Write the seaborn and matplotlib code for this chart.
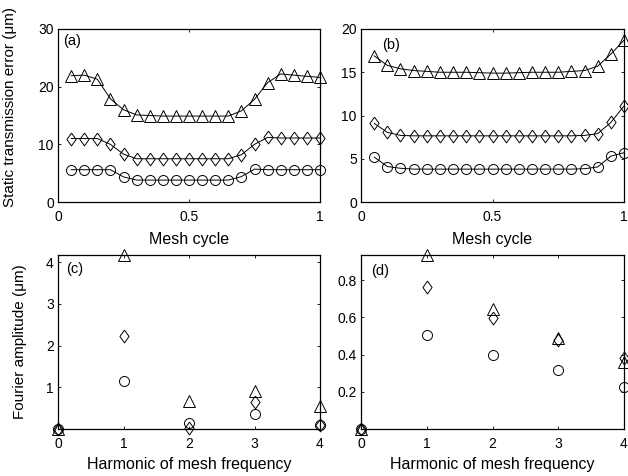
import numpy as np
import pandas as pd
import matplotlib
matplotlib.use("Agg")
import matplotlib.pyplot as plt
import seaborn as sns

# ---------------- data ----------------
mesh_cycle = [0.05, 0.10, 0.15, 0.20, 0.25, 0.30, 0.35, 0.40, 0.45, 0.50,
              0.55, 0.60, 0.65, 0.70, 0.75, 0.80, 0.85, 0.90, 0.95, 1.00]

a_triangle = [21.9, 22.0, 21.3, 17.9, 16.0, 15.1, 15.0, 14.9, 14.9, 14.9,
              14.9, 14.9, 14.9, 15.8, 17.8, 20.7, 22.2, 22.0, 21.8, 21.6]
a_diamond = [11.0, 11.0, 11.0, 10.0, 8.3, 7.5, 7.5, 7.5, 7.5, 7.5,
             7.5, 7.5, 7.5, 8.2, 10.0, 11.2, 11.1, 11.1, 11.1, 11.1]
a_circle = [5.6, 5.6, 5.6, 5.6, 4.35, 3.8, 3.8, 3.8, 3.8, 3.8,
            3.8, 3.8, 3.8, 4.4, 5.7, 5.6, 5.6, 5.6, 5.6, 5.6]

b_triangle = [16.9, 15.8, 15.4, 15.2, 15.1, 15.0, 15.0, 15.0, 14.95, 14.9,
              14.9, 14.95, 15.0, 15.0, 15.0, 15.1, 15.2, 15.7, 17.1, 18.7]
b_diamond = [9.1, 8.05, 7.7, 7.65, 7.65, 7.65, 7.65, 7.65, 7.65, 7.65,
             7.65, 7.65, 7.65, 7.65, 7.65, 7.65, 7.7, 7.9, 9.2, 11.1]
b_circle = [5.2, 4.1, 3.9, 3.8, 3.8, 3.8, 3.8, 3.8, 3.8, 3.8,
            3.8, 3.8, 3.8, 3.8, 3.8, 3.8, 3.85, 4.05, 5.3, 5.7]

harmonic = [0, 1, 2, 3, 4]
c_triangle = [0.0, 4.17, 0.67, 0.92, 0.55]
c_diamond = [0.0, 2.22, 0.02, 0.64, 0.10]
c_circle = [0.0, 1.16, 0.15, 0.36, 0.10]

d_triangle = [0.0, 0.935, 0.647, 0.49, 0.36]
d_diamond = [0.0, 0.765, 0.595, 0.48, 0.38]
d_circle = [0.0, 0.507, 0.40, 0.315, 0.227]

a_yticks = [0, 10, 20, 30]
b_yticks = [0, 5, 10, 15, 20]
c_yticks = [1, 2, 3, 4]
d_yticks = [0.2, 0.4, 0.6, 0.8]
mesh_xticks = [0, 0.5, 1]
mesh_xticklabels = ["0", "0.5", "1"]

# ---------------- style ----------------
sns.set_theme(style="ticks")
plt.rcParams["font.family"] = ["Liberation Sans", "DejaVu Sans"]
TICK_FS = 10
XLABEL_FS = 11.5
YLABEL_FS = 11
plt.rcParams.update({
    "font.size": TICK_FS,
    "axes.labelsize": XLABEL_FS,
    "xtick.labelsize": TICK_FS,
    "ytick.labelsize": TICK_FS,
    "axes.edgecolor": "black",
    "axes.linewidth": 0.9,
    "xtick.direction": "in",
    "ytick.direction": "in",
    "xtick.top": True,
    "ytick.right": True,
    "xtick.major.size": 2.5,
    "ytick.major.size": 2.5,
    "xtick.major.width": 0.6,
    "ytick.major.width": 0.6,
    "xtick.color": "black",
    "ytick.color": "black",
    "text.color": "black",
    "axes.labelcolor": "black",
})

fig = plt.figure(figsize=(6.28, 4.76), dpi=100)
W, H = 628, 476


def add_ax(l, t, r, b):
    return fig.add_axes([l / W, 1 - b / H, (r - l) / W, (b - t) / H])


ax_a = add_ax(58, 29, 320, 202)
ax_b = add_ax(361, 29, 624, 202)
ax_c = add_ax(58, 255, 320, 429)
ax_d = add_ax(361, 255, 624, 429)

diamond = [(0, 1), (0.72, 0), (0, -1), (-0.72, 0), (0, 1)]
markers = [("^", 8.0), (diamond, 9.2), ("o", 7.2)]


def draw(ax, x, series, connect):
    for (m, ms), y in zip(markers, series):
        df = pd.DataFrame({"x": x, "y": y})
        sns.lineplot(data=df, x="x", y="y", ax=ax, color="black",
                     linewidth=0.7 if connect else 0,
                     linestyle="-" if connect else "none",
                     marker=m, markersize=ms,
                     markerfacecolor="none", markeredgecolor="black",
                     markeredgewidth=0.7, clip_on=False, sort=False,
                     estimator=None)
    ax.set_xlabel("")
    ax.set_ylabel("")
    for s in ax.spines.values():
        s.set_visible(True)
        s.set_color("black")


draw(ax_a, mesh_cycle, [a_triangle, a_diamond, a_circle], True)
draw(ax_b, mesh_cycle, [b_triangle, b_diamond, b_circle], True)
draw(ax_c, harmonic, [c_triangle, c_diamond, c_circle], False)
draw(ax_d, harmonic, [d_triangle, d_diamond, d_circle], False)

for ax, yt, lim in [(ax_a, a_yticks, (0, 30)), (ax_b, b_yticks, (0, 20))]:
    ax.set_xlim(0, 1)
    ax.set_ylim(*lim)
    ax.set_xticks(mesh_xticks)
    ax.set_xticklabels(mesh_xticklabels)
    ax.set_yticks(yt)
    ax.set_yticklabels([str(v) for v in yt])
    ax.set_xlabel("Mesh cycle", labelpad=5.5)

ax_c.set_xlim(0, 4)
ax_c.set_ylim(0, max(c_triangle))
ax_c.set_yticks(c_yticks)
ax_c.set_yticklabels([str(v) for v in c_yticks])
ax_d.set_xlim(0, 4)
ax_d.set_ylim(0, max(d_triangle))
ax_d.set_yticks(d_yticks)
ax_d.set_yticklabels([f"{v:.1f}" for v in d_yticks])
for ax in (ax_c, ax_d):
    ax.set_xticks(harmonic)
    ax.set_xticklabels([str(v) for v in harmonic])
    ax.set_xlabel("Harmonic of mesh frequency", labelpad=4)

ax_a.set_ylabel("Static transmission error (\u03bcm)", fontsize=YLABEL_FS)
ax_a.yaxis.set_label_coords((17 - 58) / 262, (202 - 107) / 173)
ax_c.set_ylabel("Fourier amplitude (\u03bcm)", fontsize=YLABEL_FS)
ax_c.yaxis.set_label_coords((27 - 58) / 262, 0.5)

for ax, lab, x, y in [(ax_a, "(a)", 0.02, 0.97), (ax_b, "(b)", 0.08, 0.95),
                      (ax_c, "(c)", 0.03, 0.96), (ax_d, "(d)", 0.04, 0.95)]:
    ax.text(x, y, lab, transform=ax.transAxes, ha="left", va="top",
            fontsize=10.5)

for ax in (ax_a, ax_b, ax_c, ax_d):
    ax.tick_params(axis="y", pad=3)
    ax.tick_params(axis="x", pad=6)

fig.savefig("out.png", dpi=100)
